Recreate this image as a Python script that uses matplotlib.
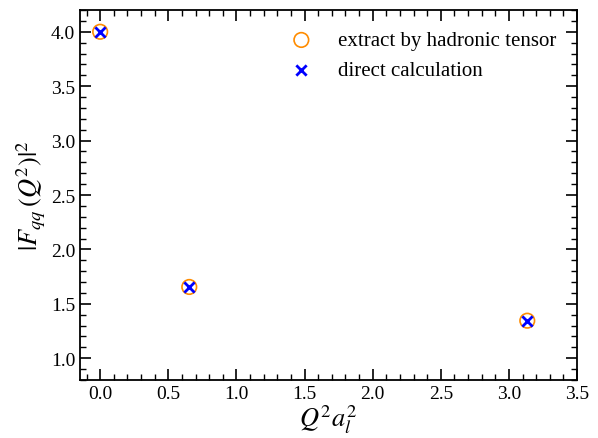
import matplotlib
matplotlib.use("Agg")
import matplotlib.pyplot as plt
from matplotlib.ticker import MultipleLocator

plt.rcParams["font.family"] = ["Liberation Serif", "DejaVu Serif"]
plt.rcParams["mathtext.fontset"] = "stix"

# data
q2a2 = [0.0, 0.654, 3.135]
f_hadronic = [4.0, 1.655, 1.345]
f_direct = [4.0, 1.655, 1.345]

fig = plt.figure(figsize=(5.98, 4.39), dpi=100)
ax = fig.add_axes([80 / 598, 1 - 381 / 439, 497 / 598, 370 / 439])

ax.scatter(q2a2, f_hadronic, s=110, facecolors="none", edgecolors="darkorange",
           linewidths=1.2, label="extract by hadronic tensor", zorder=2)
ax.scatter(q2a2, f_direct, s=55, marker="x", color="blue", linewidths=2,
           label="direct calculation", zorder=3)

ax.set_xlim(-0.148, 3.5)
ax.set_ylim(0.8, 4.2)
ax.xaxis.set_major_locator(MultipleLocator(0.5))
ax.xaxis.set_minor_locator(MultipleLocator(0.1))
ax.yaxis.set_major_locator(MultipleLocator(0.5))
ax.yaxis.set_minor_locator(MultipleLocator(0.1))
ax.tick_params(which="both", direction="in", top=True, right=True, labelsize=14)
ax.tick_params(which="major", length=8, width=1.2)
ax.tick_params(which="minor", length=4, width=1.0)
for sp in ax.spines.values():
    sp.set_linewidth(1.3)

ax.set_xlabel(r"$Q^2a_l^2$", fontsize=19, labelpad=0)
ax.set_ylabel(r"$|F_{qq}\,(Q^2)|^2$", fontsize=19, labelpad=2)

ax.legend(loc="upper right", frameon=False, fontsize=15, handletextpad=0.75,
          borderaxespad=0.6)

fig.savefig("out.png", dpi=100)
